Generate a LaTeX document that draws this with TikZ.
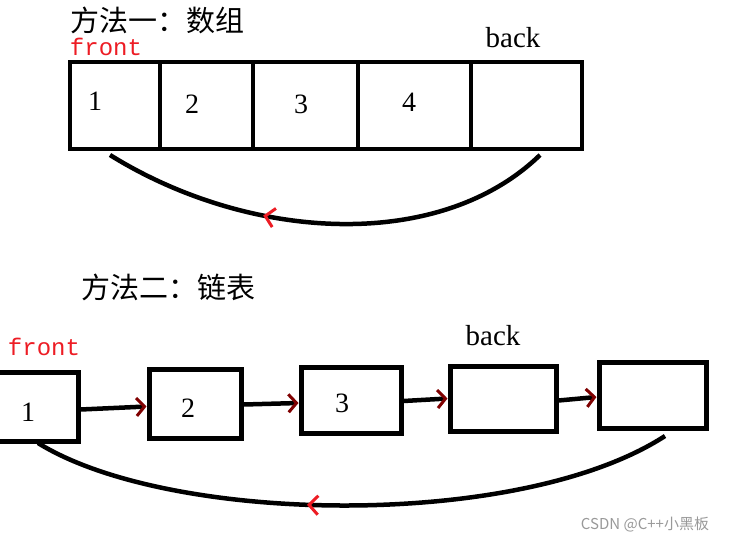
\documentclass[tikz,border=0pt]{standalone}
\usepackage{fontspec}
\setmainfont{Liberation Serif}
\newfontfamily\cjk{Noto Sans CJK SC}
\newfontfamily\monofnt{Liberation Mono}
\usetikzlibrary{arrows.meta,decorations.markings}
\definecolor{frontred}{RGB}{237,28,36}
\definecolor{tipred}{RGB}{128,0,0}
\begin{document}
\begin{tikzpicture}[x=1pt,y=-1pt,
  cell/.style={draw=black, line width=4.5pt, inner sep=0pt, minimum height=87pt},
  lbox/.style={draw=black, line width=5pt, inner sep=0pt},
  num/.style={inner sep=0pt, font=\fontsize{28}{28}\selectfont},
  lbl/.style={inner sep=0pt, font=\fontsize{29}{29}\selectfont},
  frontlbl/.style={inner sep=0pt, text=frontred, font=\monofnt\fontsize{24}{24}\selectfont},
  title/.style={inner sep=0pt, font=\cjk\fontsize{29}{29}\selectfont},
  link/.style={draw=black, line width=4.5pt, -{Straight Barb[color=tipred, length=8pt, width=18pt, line width=3pt]}},
  curve/.style={draw=black, line width=4.5pt, postaction={decorate},
    decoration={markings, mark=at position #1 with {\arrow[frontred, line width=3pt]{Straight Barb[length=9pt, width=19pt]}}}},
]
\useasboundingbox (0,0) rectangle (736,542);
\fill[white] (0,0) rectangle (736,542);

% ---- method 1 ----
\node[title] (t1) at (157,20) {方法一：数组};
\node[frontlbl] (f1) at (106,47) {front};
\node[lbl] (bk1) at (513,38) {back};

\node[cell, minimum width=90pt] (c1) at (115,105.5) {};
\node[cell, minimum width=93pt] (c2) at (206.5,105.5) {};
\node[cell, minimum width=105pt] (c3) at (305.5,105.5) {};
\node[cell, minimum width=113pt] (c4) at (414.5,105.5) {};
\node[cell, minimum width=111pt] (c5) at (526.5,105.5) {};

\node[num] (n1) at (95,101) {1};
\node[num] (n2) at (192,104) {2};
\node[num] (n3) at (301,104) {3};
\node[num] (n4) at (409,102) {4};

\coordinate (a1s) at (540,155);
\coordinate (a1e) at (110,155);
\draw[curve=0.64] (a1s) .. controls (440,252) and (250,242) .. (a1e);

% ---- method 2 ----
\node[title] (t2) at (168,287) {方法二：链表};
\node[frontlbl] (f2) at (44,347) {front};
\node[lbl] (bk2) at (493,336) {back};

\node[lbox, minimum width=83pt, minimum height=69pt] (b1) at (36.5,406.5) {};
\node[lbox, minimum width=92pt, minimum height=69pt] (b2) at (195,403.5) {};
\node[lbox, minimum width=100pt, minimum height=66pt] (b3) at (351,400) {};
\node[lbox, minimum width=106pt, minimum height=65pt] (b4) at (503,398.5) {};
\node[lbox, minimum width=107pt, minimum height=66pt] (b5) at (652.5,395) {};

\node[num] (m1) at (28,412) {1};
\node[num] (m2) at (188,408) {2};
\node[num] (m3) at (342,403) {3};

\draw[link] ([yshift=-3pt]b1.east) -- ([yshift=-3pt]b2.west);
\draw[link] ([yshift=-1pt]b2.east) -- ([yshift=-3pt]b3.west);
\draw[link] ([yshift=-1pt]b3.east) -- (b4.west);
\draw[link] ([yshift=-2pt]b4.east) -- ([yshift=-2pt]b5.west);

\coordinate (a2s) at (665,436);
\coordinate (a2e) at (38,443);
\draw[curve=0.57] (a2s) .. controls (520,530) and (170,525) .. (a2e);

\node[inner sep=0pt, text=black!40, font=\cjk\fontsize{15}{15}\selectfont] (wm) at (645,524) {CSDN @C++小黑板};
\end{tikzpicture}
\end{document}
